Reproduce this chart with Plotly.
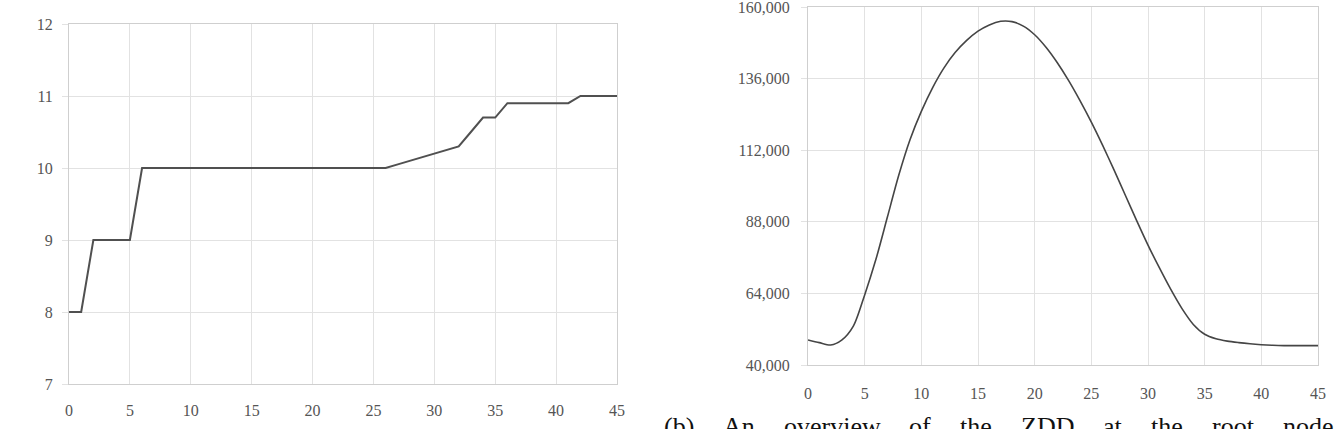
import plotly.graph_objects as go

W, H = 1342, 429

# ---- data ----
left_x = list(range(0, 46))
left_y = [8, 8, 9, 9, 9, 9, 10, 10, 10, 10,
          10, 10, 10, 10, 10, 10, 10, 10, 10, 10,
          10, 10, 10, 10, 10, 10, 10, 10.05, 10.1, 10.15,
          10.2, 10.25, 10.3, 10.5, 10.7, 10.7, 10.9, 10.9, 10.9, 10.9,
          10.9, 10.9, 11, 11, 11, 11]

right_x = list(range(0, 46))
right_y = [48400, 47500, 46700, 48400, 53000, 63500, 75500, 89500, 103500, 115500,
           125000, 133000, 139600, 144800, 148800, 151900, 154000, 155200, 155100, 153600,
           150700, 146500, 141300, 135300, 128600, 121400, 113600, 105400, 96900, 88400,
           80200, 72600, 65400, 58900, 53600, 50300, 48800, 48000, 47500, 47100,
           46800, 46600, 46500, 46500, 46500, 46500]

left_yticks = [7, 8, 9, 10, 11, 12]
right_yticks = [40000, 64000, 88000, 112000, 136000, 160000]
xticks = [0, 5, 10, 15, 20, 25, 30, 35, 40, 45]

caption_words = ["(b)", "An", "overview", "of", "the", "ZDD", "at", "the", "root", "node"]
caption_left_px = [663, 722, 783, 908, 959, 1020, 1102, 1150, 1211, 1282]

FONT = "Liberation Serif"
GRID = "#e2e2e2"
LINE = "#cfcfcf"
TICKFONT = dict(family=FONT, size=16, color="#555555")

def px_x(p):
    return p / W

def px_y(p):
    return 1 - p / H

fig = go.Figure()
fig.add_trace(go.Scatter(x=left_x, y=left_y, mode="lines",
                         line=dict(color="#505050", width=2),
                         xaxis="x", yaxis="y", showlegend=False))
fig.add_trace(go.Scatter(x=right_x, y=right_y, mode="lines",
                         line=dict(color="#454545", width=1.6, shape="spline", smoothing=0.8),
                         xaxis="x2", yaxis="y2", showlegend=False))

common_x = dict(range=[0, 45], tickvals=xticks, showgrid=True, gridcolor=GRID, gridwidth=1,
                showline=True, mirror=True, linecolor=LINE, linewidth=1, automargin=False,
                ticks="", tickfont=TICKFONT, zeroline=False, fixedrange=True,
                ticklabeloverflow="allow")
common_y = dict(showgrid=True, gridcolor=GRID, gridwidth=1, automargin=False,
                showline=True, mirror=True, linecolor=LINE, linewidth=1,
                ticks="outside", ticklen=6, tickcolor=GRID, tickfont=TICKFONT,
                zeroline=False, fixedrange=True, ticklabeloverflow="allow")

fig.update_layout(
    width=W, height=H,
    margin=dict(l=0, r=0, t=0, b=0),
    paper_bgcolor="white", plot_bgcolor="white",
    xaxis=dict(domain=[px_x(69), px_x(617)], anchor="y", ticklabelstandoff=12, **common_x),
    yaxis=dict(domain=[px_y(384), px_y(24)], anchor="x", range=[7, 12],
               tickvals=left_yticks, ticklabelstandoff=6, **common_y),
    xaxis2=dict(domain=[px_x(808), px_x(1318)], anchor="y2", ticklabelstandoff=14, **common_x),
    yaxis2=dict(domain=[px_y(365), px_y(7)], anchor="x2", range=[40000, 160000],
                tickvals=right_yticks, tickformat=",", ticklabelstandoff=8, **common_y),
)

for w, xl in zip(caption_words, caption_left_px):
    fig.add_annotation(text=w, x=px_x(xl), y=px_y(411), xref="paper", yref="paper",
                       xanchor="left", yanchor="top", showarrow=False,
                       font=dict(family=FONT, size=26, color="#111111"), borderpad=0)

fig.write_html("out.html")
